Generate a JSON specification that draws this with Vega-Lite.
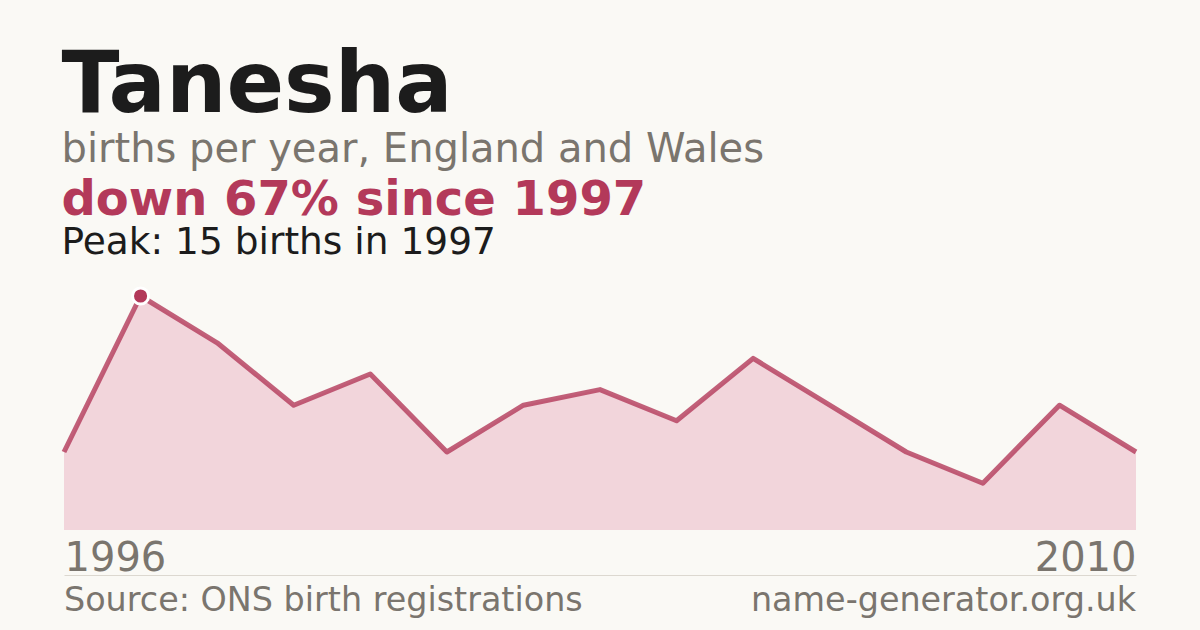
{
  "$schema": "https://vega.github.io/schema/vega-lite/v6.json",
  "background": "#faf9f5",
  "padding": {"left": 61, "right": 61, "top": 44, "bottom": 3},
  "config": {
    "font": "DejaVu Sans",
    "view": {"stroke": null}
  },
  "title": {
    "text": "Tanesha",
    "subtitle": "births per year, England and Wales",
    "anchor": "start",
    "font": "DejaVu Sans",
    "fontSize": 85,
    "fontWeight": "bold",
    "color": "#1c1c1c",
    "subtitleFont": "DejaVu Sans",
    "subtitleFontSize": 40,
    "subtitleColor": "#7a756e",
    "subtitlePadding": 0,
    "offset": 6
  },
  "datasets": {
    "births": [
      {"year": 1996, "births": 5},
      {"year": 1997, "births": 15},
      {"year": 1998, "births": 12},
      {"year": 1999, "births": 8},
      {"year": 2000, "births": 10},
      {"year": 2001, "births": 5},
      {"year": 2002, "births": 8},
      {"year": 2003, "births": 9},
      {"year": 2004, "births": 7},
      {"year": 2005, "births": 11},
      {"year": 2006, "births": 8},
      {"year": 2007, "births": 5},
      {"year": 2008, "births": 3},
      {"year": 2009, "births": 8},
      {"year": 2010, "births": 5}
    ],
    "footer": [
      {"year": 1996, "label": "Source: ONS birth registrations", "side": "left"},
      {"year": 2010, "label": "name-generator.org.uk", "side": "right"}
    ]
  },
  "bounds": "flush",
  "spacing": 45,
  "vconcat": [
    {
      "width": 1072,
      "height": 234,
      "title": {
        "text": "down 67% since 1997",
        "subtitle": "Peak: 15 births in 1997",
        "anchor": "start",
        "fontSize": 48,
        "fontWeight": "bold",
        "color": "#b3395a",
        "subtitleFontSize": 37.5,
        "subtitleColor": "#1c1c1c",
        "subtitlePadding": -1,
        "offset": 20
      },
      "data": {"name": "births"},
      "encoding": {
        "x": {
          "field": "year",
          "type": "quantitative",
          "scale": {"domain": [1996, 2010], "nice": false, "zero": false},
          "axis": null
        },
        "y": {
          "field": "births",
          "type": "quantitative",
          "scale": {"domain": [0, 15], "nice": false},
          "axis": null
        }
      },
      "layer": [
        {"mark": {"type": "area", "color": "#f2d5db"}},
        {"mark": {"type": "line", "color": "#b3395a", "strokeWidth": 5, "strokeOpacity": 0.8, "strokeJoin": "round"}},
        {
          "transform": [{"filter": "datum.year == 1997"}],
          "mark": {"type": "circle", "size": 260, "color": "#b3395a", "opacity": 1, "stroke": "white", "strokeWidth": 3}
        }
      ]
    },
    {
      "width": 1072,
      "height": 52,
      "data": {"name": "footer"},
      "encoding": {
        "x": {
          "field": "year",
          "type": "quantitative",
          "scale": {"domain": [1996, 2010], "nice": false, "zero": false},
          "axis": {
            "orient": "top",
            "title": null,
            "values": [1996, 2010],
            "format": "d",
            "labelFlush": true,
            "labelFontSize": 40,
            "labelColor": "#7a756e",
            "labelBaseline": "alphabetic",
            "labelPadding": 5,
            "ticks": false,
            "grid": false,
            "domainColor": "#dcd8d0",
            "domainWidth": 1
          }
        },
        "text": {"field": "label"}
      },
      "layer": [
        {
          "transform": [{"filter": "datum.side == 'left'"}],
          "mark": {"type": "text", "align": "left", "baseline": "middle", "fontSize": 33.4, "color": "#7a756e"}
        },
        {
          "transform": [{"filter": "datum.side == 'right'"}],
          "mark": {"type": "text", "align": "right", "baseline": "middle", "fontSize": 33.4, "color": "#7a756e"}
        }
      ]
    }
  ]
}
